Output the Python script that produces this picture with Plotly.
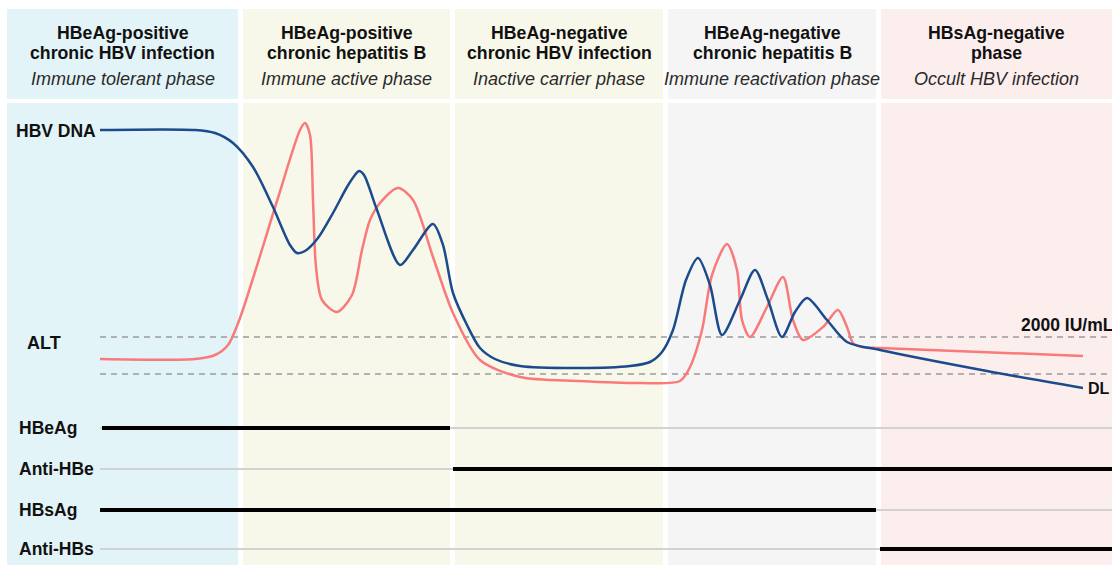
import plotly.graph_objects as go

# ---------------- data ----------------
phase_titles = [
    ["HBeAg-positive", "chronic HBV infection"],
    ["HBeAg-positive", "chronic hepatitis B"],
    ["HBeAg-negative", "chronic HBV infection"],
    ["HBeAg-negative", "chronic hepatitis B"],
    ["HBsAg-negative", "phase"],
]
phase_subtitles = [
    "Immune tolerant phase",
    "Immune active phase",
    "Inactive carrier phase",
    "Immune reactivation phase",
    "Occult HBV infection",
]

# HBV DNA curve (schematic)
dna_x = [100, 195, 215, 233, 253, 273, 290, 297, 305, 318, 333, 347, 355, 359, 364, 377,
         400, 413, 433, 443, 453, 467, 480, 495, 520, 580, 630, 650, 662, 673, 686, 698,
         710, 722, 740, 755, 768, 782, 795, 807, 827, 847, 880, 987, 1083]
dna_y = [130, 130, 133, 143, 167, 207, 245, 253, 251, 238, 213, 187, 175, 171, 175, 210,
         265, 250, 224, 245, 293, 325, 348, 359, 366, 368, 366, 362, 352, 330, 280, 258,
         285, 335, 300, 270, 300, 337, 312, 298, 320, 342, 350, 371, 388]

# ALT curve
alt_x = [100, 195, 215, 228, 240, 277, 300, 305, 310, 313, 316, 322, 337, 352, 362,
         370, 380, 398, 413, 433, 453, 480, 520, 580, 640, 680, 690, 702, 712, 727, 737,
         742, 750, 767, 783, 793, 803, 823, 838, 847, 853, 862, 880, 1083]
alt_y = [359, 359, 355, 345, 318, 201, 130, 123, 135, 200, 267, 300, 312, 295, 250,
         220, 203, 188, 200, 257, 313, 360, 377, 381, 383, 381, 367, 330, 275, 244, 270,
         320, 337, 307, 277, 320, 340, 327, 310, 327, 343, 347, 348, 356]

# serological markers and the x-extent where each is present
markers = ["HBeAg", "Anti-HBe", "HBsAg", "Anti-HBs"]
marker_on_start = [102, 453, 100, 880]
marker_on_end = [450, 1112, 876, 1112]

threshold_labels = ["2000 IU/mL", "DL"]

# ---------------- layout constants ----------------
W, H = 1112, 565
panel_x0 = [7, 243, 455, 668, 881]
panel_x1 = [238, 450, 663, 876, 1112]
panel_colors = ["#e3f4f8", "#f8f8ea", "#f8f8ea", "#f5f5f5", "#fdeeee"]
head_y0, head_y1 = 9, 99
body_y0 = 103
marker_y = [428, 469, 510, 549]
thr_y = [337, 374]

BLUE = "#1b4b8c"
RED = "#f87a7a"
FONT = "Liberation Sans, Arial, sans-serif"

fig = go.Figure()
shapes = []
ann = []

for i in range(5):
    shapes.append(dict(type="rect", xref="x", yref="y", x0=panel_x0[i], x1=panel_x1[i],
                       y0=head_y0, y1=head_y1, fillcolor=panel_colors[i],
                       line=dict(width=0), layer="below"))
    shapes.append(dict(type="rect", xref="x", yref="y", x0=panel_x0[i], x1=panel_x1[i],
                       y0=body_y0, y1=H + 5, fillcolor=panel_colors[i],
                       line=dict(width=0), layer="below"))
    cx = (panel_x0[i] + panel_x1[i]) / 2
    for j, line in enumerate(phase_titles[i]):
        ann.append(dict(x=cx, y=33 + 20 * j, text="<b>%s</b>" % line, showarrow=False,
                        xanchor="center", yanchor="middle",
                        font=dict(family=FONT, size=17.7, color="#111")))
    ann.append(dict(x=cx, y=79, text="<i>%s</i>" % phase_subtitles[i], showarrow=False,
                    xanchor="center", yanchor="middle",
                    font=dict(family=FONT, size=18, color="#2a2a2a")))

# threshold dashed lines
for ty in thr_y:
    fig.add_trace(go.Scatter(x=[100, W], y=[ty, ty], mode="lines",
                             line=dict(color="#9a9a9a", width=1.5, dash="6px,5px"),
                             hoverinfo="skip", showlegend=False))

# marker lines
for k, name in enumerate(markers):
    fig.add_trace(go.Scatter(x=[100, W], y=[marker_y[k], marker_y[k]], mode="lines",
                             line=dict(color="#d2d2d2", width=2),
                             hoverinfo="skip", showlegend=False))
    fig.add_trace(go.Scatter(x=[marker_on_start[k], marker_on_end[k]],
                             y=[marker_y[k], marker_y[k]], mode="lines",
                             line=dict(color="#000", width=4),
                             hoverinfo="skip", showlegend=False))
    ann.append(dict(x=17, y=marker_y[k], text="<b>%s</b>" % name, showarrow=False,
                    xanchor="left", yanchor="middle",
                    font=dict(family=FONT, size=17.5, color="#111")))

# curves
fig.add_trace(go.Scatter(x=alt_x, y=alt_y, mode="lines",
                         line=dict(color=RED, width=2.5, shape="spline", smoothing=0.8),
                         name="ALT", showlegend=False))
fig.add_trace(go.Scatter(x=dna_x, y=dna_y, mode="lines",
                         line=dict(color=BLUE, width=2.5, shape="spline", smoothing=0.8),
                         name="HBV DNA", showlegend=False))

ann.append(dict(x=14, y=131, text="<b>HBV DNA</b>", showarrow=False, xanchor="left",
                yanchor="middle", font=dict(family=FONT, size=17.5, color="#111")))
ann.append(dict(x=25, y=343, text="<b>ALT</b>", showarrow=False, xanchor="left",
                yanchor="middle", font=dict(family=FONT, size=18, color="#111")))
ann.append(dict(x=1019, y=325, text="<b>%s</b>" % threshold_labels[0], showarrow=False,
                xanchor="left", yanchor="middle", font=dict(family=FONT, size=17.5, color="#111")))
ann.append(dict(x=1086, y=388, text="<b>%s</b>" % threshold_labels[1], showarrow=False,
                xanchor="left", yanchor="middle", font=dict(family=FONT, size=16, color="#111")))

fig.update_layout(
    width=W, height=H, margin=dict(l=0, r=0, t=0, b=0),
    paper_bgcolor="white", plot_bgcolor="white",
    xaxis=dict(range=[0, W], visible=False, fixedrange=True),
    yaxis=dict(range=[H, 0], visible=False, fixedrange=True),
    shapes=shapes, annotations=ann, showlegend=False,
)
fig.write_html(
    "out.html",
    config={"displayModeBar": False},
    post_script="document.body.style.margin='0';document.body.style.overflow='hidden';",
)
